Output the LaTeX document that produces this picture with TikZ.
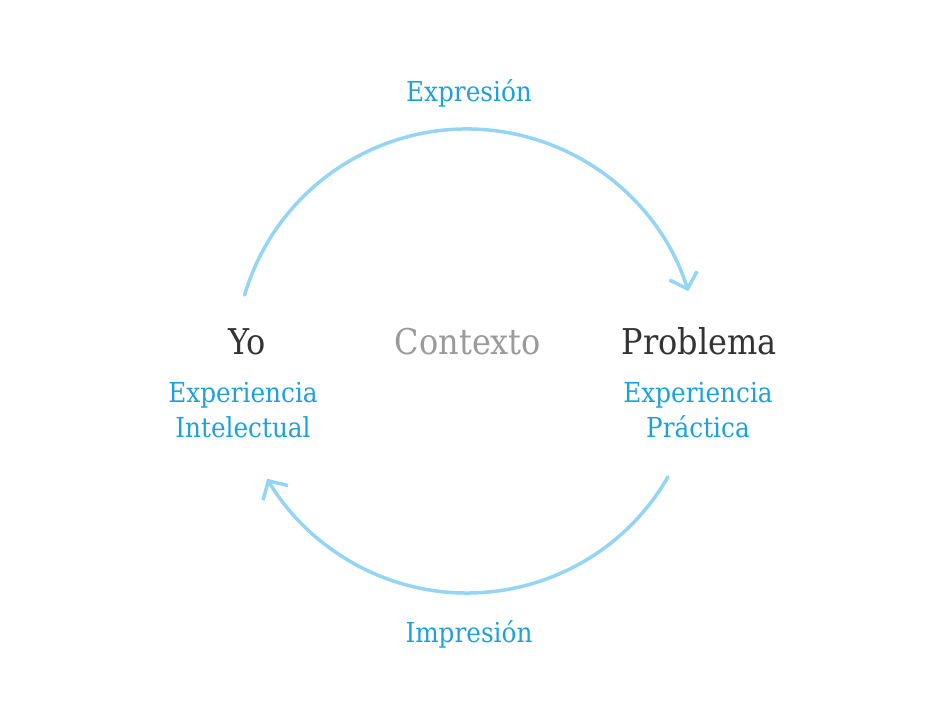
\documentclass[tikz,border=0pt]{standalone}
\usepackage{fontspec}
\setmainfont{DejaVu Serif Condensed}
\usetikzlibrary{arrows.meta}
\definecolor{arcblue}{HTML}{94D4F5}
\definecolor{txtblue}{HTML}{1DA1DD}
\definecolor{dark}{HTML}{333333}
\definecolor{midgray}{HTML}{9A9A9A}
\tikzset{
  cyc/.style={draw=arcblue, line width=3.5pt, line cap=round,
    -{Straight Barb[length=14pt,width=29pt,line width=3.5pt]}},
  main/.style={text=dark, font=\fontsize{35.5}{40}\selectfont, anchor=base},
  ctx/.style={text=midgray, font=\fontsize{35.5}{40}\selectfont, anchor=base},
  sub/.style={text=txtblue, font=\fontsize{27.5}{27.5}\selectfont, anchor=base},
  lbl/.style={text=txtblue, font=\fontsize{27.5}{30}\selectfont, anchor=base}
}
\begin{document}
\begin{tikzpicture}[x=1pt,y=1pt]
\useasboundingbox (0,0) rectangle (945,709);
% center (467,348), radius 232
\coordinate (c) at (467,348);
\draw[cyc] ([shift={(163.5:232)}]c) arc[start angle=163.5, end angle=17.5, radius=232];
\draw[cyc] ([shift={(-30:232)}]c) arc[start angle=-30, end angle=-149.5, radius=232];
\node[main] (yo) at (247,354) {Yo};
\node[ctx] (ctx) at (468,354) {Contexto};
\node[main] (prob) at (699,354) {Problema};
\node[sub] (ei1) at (243,306) {Experiencia};
\node[sub] (ei2) at (243,271) {Intelectual};
\node[sub] (ep1) at (698,306) {Experiencia};
\node[sub] (ep2) at (698,271) {Práctica};
\node[lbl] (expr) at (469,607) {Expresión};
\node[lbl] (impr) at (469,66) {Impresión};
\end{tikzpicture}
\end{document}
